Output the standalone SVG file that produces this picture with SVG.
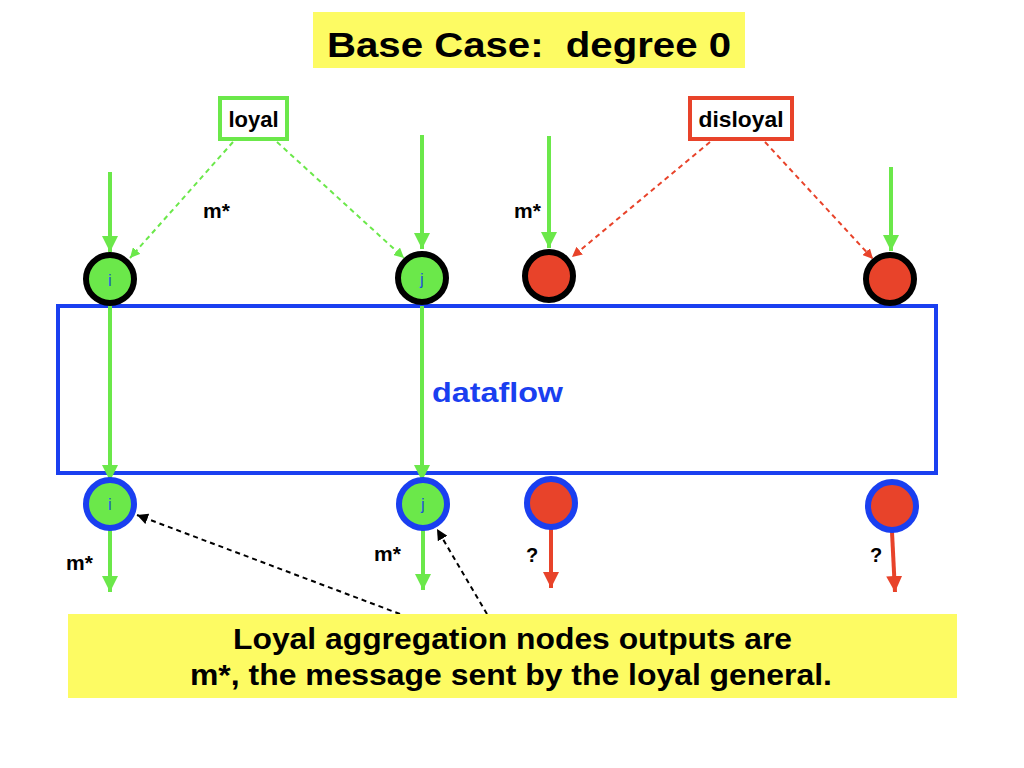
<svg xmlns="http://www.w3.org/2000/svg" width="1024" height="768" viewBox="0 0 1024 768">
<defs>
<style>
.t{font-family:"Liberation Sans",Arial,sans-serif;font-weight:bold;fill:#000}
.lbl{font-family:"Liberation Sans",Arial,sans-serif;font-size:17px;fill:#2058d8;text-anchor:middle}
.g{stroke:#6be84a;stroke-width:4;fill:none}
.r{stroke:#e8432a;stroke-width:4;fill:none}
.gd{stroke:#6be84a;stroke-width:2;stroke-dasharray:5 4;fill:none}
.rd{stroke:#e8432a;stroke-width:2;stroke-dasharray:5 4;fill:none}
.kd{stroke:#000;stroke-width:2;stroke-dasharray:5 4;fill:none}
.top{stroke:#000;stroke-width:6}
.bot{stroke:#1a3ff0;stroke-width:6}
.gf{fill:#6be84a}
.rf{fill:#e8432a}
</style>
<marker id="ag" viewBox="0 0 16 16" refX="16" refY="8" markerWidth="16" markerHeight="16" markerUnits="userSpaceOnUse" orient="auto"><path d="M0,0L16,8L0,16Z" fill="#6be84a"/></marker>
<marker id="ar" viewBox="0 0 16 16" refX="16" refY="8" markerWidth="16" markerHeight="16" markerUnits="userSpaceOnUse" orient="auto"><path d="M0,0L16,8L0,16Z" fill="#e8432a"/></marker>
<marker id="agd" viewBox="0 0 10 10" refX="10" refY="5" markerWidth="10" markerHeight="10" markerUnits="userSpaceOnUse" orient="auto"><path d="M0,0L10,5L0,10Z" fill="#6be84a"/></marker>
<marker id="ard" viewBox="0 0 10 10" refX="10" refY="5" markerWidth="10" markerHeight="10" markerUnits="userSpaceOnUse" orient="auto"><path d="M0,0L10,5L0,10Z" fill="#e8432a"/></marker>
<marker id="akd" viewBox="0 0 10 10" refX="10" refY="5" markerWidth="11" markerHeight="11" markerUnits="userSpaceOnUse" orient="auto"><path d="M0,0L10,5L0,10Z" fill="#000"/></marker>
</defs>
<rect width="1024" height="768" fill="#fff"/>

<g id="title">
<rect x="313" y="12" width="432" height="56" fill="#fdfb63"/>
<text class="t" x="529" y="57" font-size="35" text-anchor="middle" textLength="404" lengthAdjust="spacingAndGlyphs" xml:space="preserve">Base Case:  degree 0</text>
</g>

<g id="dataflow">
<rect x="58" y="306" width="878" height="167" fill="none" stroke="#1a3ff0" stroke-width="4"/>
<text x="432" y="402" font-family="Liberation Sans,Arial,sans-serif" font-weight="bold" font-size="28" fill="#1a3ff0" textLength="131" lengthAdjust="spacingAndGlyphs">dataflow</text>
</g>

<g id="connectors">
<line class="g" x1="110" y1="172" x2="110" y2="252" marker-end="url(#ag)"/>
<line class="g" x1="422" y1="135" x2="422" y2="249" marker-end="url(#ag)"/>
<line class="g" x1="549" y1="136" x2="549" y2="248" marker-end="url(#ag)"/>
<line class="g" x1="891" y1="167" x2="891" y2="251" marker-end="url(#ag)"/>
<line class="gd" x1="233" y1="142" x2="130" y2="258" marker-end="url(#agd)"/>
<line class="gd" x1="277" y1="142" x2="404" y2="258" marker-end="url(#agd)"/>
<line class="rd" x1="710" y1="142" x2="572" y2="257" marker-end="url(#ard)"/>
<line class="rd" x1="765" y1="142" x2="873" y2="259" marker-end="url(#ard)"/>
<line class="g" x1="110" y1="306" x2="110" y2="481" marker-end="url(#ag)"/>
<line class="g" x1="422" y1="306" x2="422" y2="481" marker-end="url(#ag)"/>
<line class="g" x1="110" y1="530" x2="110" y2="592" marker-end="url(#ag)"/>
<line class="g" x1="423" y1="530" x2="423" y2="590" marker-end="url(#ag)"/>
<line class="r" x1="551" y1="529" x2="551" y2="588" marker-end="url(#ar)"/>
<line class="r" x1="892" y1="532" x2="895" y2="592" marker-end="url(#ar)"/>
<line class="kd" x1="400" y1="614" x2="137" y2="515" marker-end="url(#akd)"/>
<line class="kd" x1="487" y1="614" x2="437" y2="529" marker-end="url(#akd)"/>
</g>

<g id="loyal">
<rect x="220" y="98" width="67" height="41" fill="#fff" stroke="#6be84a" stroke-width="4"/>
<text class="t" x="253.5" y="127" font-size="22" text-anchor="middle">loyal</text>
</g>
<g id="disloyal">
<rect x="690" y="98" width="102" height="41" fill="#fff" stroke="#e8432a" stroke-width="4"/>
<text class="t" x="741" y="127" font-size="22" text-anchor="middle" textLength="85" lengthAdjust="spacingAndGlyphs">disloyal</text>
</g>

<g id="top-i"><circle class="top gf" cx="110" cy="279" r="24"/><text class="lbl" x="110" y="286">i</text></g>
<g id="top-j"><circle class="top gf" cx="422" cy="278" r="24"/><text class="lbl" x="422" y="285">j</text></g>
<g id="top-r1"><circle class="top rf" cx="549" cy="276" r="24"/></g>
<g id="top-r2"><circle class="top rf" cx="890" cy="279" r="24"/></g>

<g id="bot-i"><circle class="bot gf" cx="110" cy="504" r="24"/><text class="lbl" x="110" y="510">i</text></g>
<g id="bot-j"><circle class="bot gf" cx="423" cy="504" r="24"/><text class="lbl" x="423" y="510">j</text></g>
<g id="bot-r1"><circle class="bot rf" cx="551" cy="503" r="24"/></g>
<g id="bot-r2"><circle class="bot rf" cx="892" cy="506" r="24"/></g>

<g id="labels">
<text class="t" x="203" y="218" font-size="21">m*</text>
<text class="t" x="514" y="218" font-size="21">m*</text>
<text class="t" x="66" y="570" font-size="21">m*</text>
<text class="t" x="374" y="561" font-size="21">m*</text>
<text class="t" x="526" y="562" font-size="20">?</text>
<text class="t" x="870" y="562" font-size="20">?</text>
</g>

<g id="note">
<rect x="68" y="614" width="889" height="84" fill="#fdfb63"/>
<text class="t" x="512.5" y="649" font-size="29" text-anchor="middle" textLength="559" lengthAdjust="spacingAndGlyphs">Loyal aggregation nodes outputs are</text>
<text class="t" x="511" y="685" font-size="29" text-anchor="middle" textLength="642" lengthAdjust="spacingAndGlyphs">m*, the message sent by the loyal general.</text>
</g>
</svg>
